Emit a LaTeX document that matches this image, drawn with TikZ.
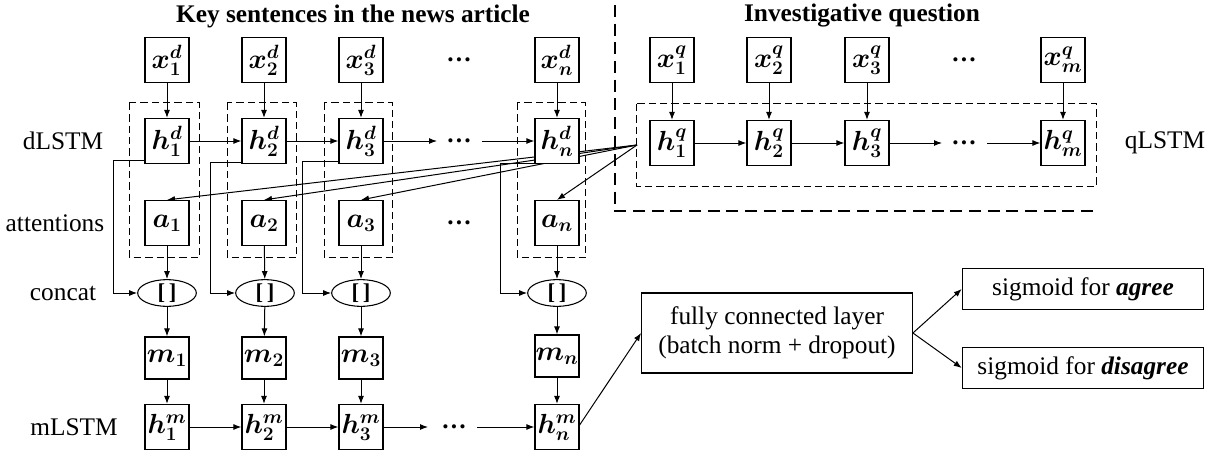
\documentclass[tikz,border=0pt]{standalone}
\usepackage{amsmath,bm}
\usepackage{fontspec}
\setmainfont{Liberation Serif}
\usetikzlibrary{arrows.meta,calc,shapes.geometric,backgrounds}
\begin{document}
\begin{tikzpicture}[x=0.75pt,y=-0.75pt,
  box/.style={draw,line width=0.9pt,fill=white,minimum width=33pt,minimum height=33.75pt,inner sep=0pt,font=\fontsize{22}{24}\selectfont},
  mbox/.style={box,minimum height=31.5pt},
  ell/.style={ellipse,draw,line width=0.8pt,fill=white,minimum width=44pt,minimum height=20pt,inner sep=0pt,font=\bfseries\fontsize{17}{18}\selectfont},
  lab/.style={font=\fontsize{19}{22}\selectfont},
  ttl/.style={font=\bfseries\fontsize{19}{22}\selectfont},
  dts/.style={font=\bfseries\fontsize{19}{22}\selectfont},
  arr/.style={line width=0.75pt,-{Latex[length=6pt,width=4.5pt]}},
  dbox/.style={line width=0.75pt,dash pattern=on 5.5pt off 3pt},
  bigdash/.style={line width=2.2pt,dash pattern=on 9pt off 5pt},
  rbox/.style={draw,line width=0.9pt,fill=white,inner sep=0pt,align=center,font=\fontsize{19}{22}\selectfont}
]
\useasboundingbox (0,0) rectangle (1222,457);

% titles
\node[ttl] (t1) at (353,16) {Key sentences in the news article};
\node[ttl] (t2) at (862,16) {Investigative question};

% row labels
\node[lab] (l1) at (63,141) {dLSTM};
\node[lab] (l2) at (55,223) {attentions};
\node[lab] (l3) at (63,293) {concat};
\node[lab] (l4) at (74,427) {mLSTM};
\node[lab] (l5) at (1165,143) {qLSTM};

% d inputs
\node[box] (x1d) at (167,60) {$\bm{x_1^d}$};
\node[box] (x2d) at (264,60) {$\bm{x_2^d}$};
\node[box] (x3d) at (361,60) {$\bm{x_3^d}$};
\node[dts] (dx) at (459,60) {…};
\node[box] (xnd) at (557,60) {$\bm{x_n^d}$};

% dLSTM
\node[box] (h1d) at (167,141) {$\bm{h_1^d}$};
\node[box] (h2d) at (264,141) {$\bm{h_2^d}$};
\node[box] (h3d) at (361,141) {$\bm{h_3^d}$};
\node[dts] (dh) at (459,141) {…};
\node[box] (hnd) at (557,141) {$\bm{h_n^d}$};

% attentions
\node[box] (a1) at (167,223) {$\bm{a_1}$};
\node[box] (a2) at (264,223) {$\bm{a_2}$};
\node[box] (a3) at (361,223) {$\bm{a_3}$};
\node[dts] (da) at (459,223) {…};
\node[box] (an) at (557,223) {$\bm{a_n}$};

% concat
\node[ell] (c1) at (167,293) {[\,]};
\node[ell] (c2) at (265,293) {[\,]};
\node[ell] (c3) at (361,293) {[\,]};
\node[ell] (cn) at (557,293) {[\,]};

% m
\node[mbox] (m1) at (167,358) {$\bm{m_1}$};
\node[mbox] (m2) at (264,358) {$\bm{m_2}$};
\node[mbox] (m3) at (361,358) {$\bm{m_3}$};
\node[mbox] (mn) at (557,356) {$\bm{m_n}$};

% mLSTM
\node[box] (h1m) at (167,427) {$\bm{h_1^m}$};
\node[box] (h2m) at (264,427) {$\bm{h_2^m}$};
\node[box] (h3m) at (361,427) {$\bm{h_3^m}$};
\node[dts] (dm) at (454,427) {…};
\node[box] (hnm) at (557,427) {$\bm{h_n^m}$};

% q inputs
\node[box] (x1q) at (672,60) {$\bm{x_1^q}$};
\node[box] (x2q) at (769,60) {$\bm{x_2^q}$};
\node[box] (x3q) at (867,60) {$\bm{x_3^q}$};
\node[dts] (dxq) at (964,60) {…};
\node[box] (xmq) at (1063,60) {$\bm{x_m^q}$};

% qLSTM
\node[box] (h1q) at (672,143) {$\bm{h_1^q}$};
\node[box] (h2q) at (769,143) {$\bm{h_2^q}$};
\node[box] (h3q) at (867,143) {$\bm{h_3^q}$};
\node[dts] (dhq) at (964,143) {…};
\node[box] (hmq) at (1063,143) {$\bm{h_m^q}$};

% classifier
\node[rbox,minimum width=203pt,minimum height=60pt] (fc) at (777,333) {fully connected layer\\(batch norm + dropout)};
\node[rbox,minimum width=181pt,minimum height=31pt] (sa) at (1083,289) {sigmoid for \textbf{\textit{agree}}};
\node[rbox,minimum width=181pt,minimum height=31pt] (sd) at (1083,368) {sigmoid for \textbf{\textit{disagree}}};

% coordinates for free ends
\coordinate (att) at (637,145);
\coordinate (h3e) at (437,141);
\coordinate (hns) at (482,141);
\coordinate (h3qe) at (942,143);
\coordinate (hmqs) at (987,143);
\coordinate (h3me) at (428,427);
\coordinate (hnms) at (477,427);

% attention lines and skip connections (behind boxes)
\begin{scope}[on background layer]
\draw[arr] (att) -- (a1.north);
\draw[arr] (att) -- (a2.north);
\draw[arr] (att) -- (a3.north);
\draw[arr] (att) -- (an.north);
\draw[arr] ($(h1d.south west)+(0,-4)$) -| ($(c1.west)+(-24,0)$) -- (c1.west);
\draw[arr] ($(h2d.south west)+(6,-2)$) -| ($(c2.west)+(-25,0)$) -- (c2.west);
\draw[arr] ($(h3d.south west)+(0,-3)$) -| ($(c3.west)+(-29,0)$) -- (c3.west);
\draw[arr] ($(hnd.south west)+(0,-1)$) -| ($(cn.west)+(-27,0)$) -- (cn.west);
\end{scope}

% dashed groups
\draw[dbox] ($(h1d.north west)+(-15,-15)$) rectangle ($(a1.south east)+(10,11)$);
\draw[dbox] ($(h2d.north west)+(-14,-15)$) rectangle ($(a2.south east)+(10,11)$);
\draw[dbox] ($(h3d.north west)+(-14,-15)$) rectangle ($(a3.south east)+(9,11)$);
\draw[dbox] ($(hnd.north west)+(-17,-15)$) rectangle ($(an.south east)+(6,11)$);
\draw[dbox] ($(h1q.north west)+(-13,-16)$) rectangle ($(hmq.south east)+(11,20)$);

% big dashed border
\draw[bigdash] (615,5) -- (615,211) -- (1095,211);

% vertical arrows
\foreach \i in {1,2,3,n}{
  \draw[arr] (x\i d) -- (h\i d);
  \draw[arr] (a\i) -- (c\i);
  \draw[arr] (c\i) -- (m\i);
  \draw[arr] (m\i) -- (h\i m);
}
\foreach \i in {1,2,3,m}{
  \draw[arr] (x\i q) -- (h\i q);
}

% horizontal arrows
\draw[arr] (h1d) -- (h2d);
\draw[arr] (h2d) -- (h3d);
\draw[arr] (h3d) -- (h3e);
\draw[arr] (hns) -- (hnd);
\draw[arr] (h1q) -- (h2q);
\draw[arr] (h2q) -- (h3q);
\draw[arr] (h3q) -- (h3qe);
\draw[arr] (hmqs) -- (hmq);
\draw[arr] (h1m) -- (h2m);
\draw[arr] (h2m) -- (h3m);
\draw[arr] (h3m) -- (h3me);
\draw[arr] (hnms) -- (hnm);

% classifier arrows
\draw[arr] ($(hnm.east)+(0,-2)$) -- (fc.west);
\draw[arr] (fc.east) -- (sa.west);
\draw[arr] (fc.east) -- (sd.west);
\end{tikzpicture}
\end{document}
